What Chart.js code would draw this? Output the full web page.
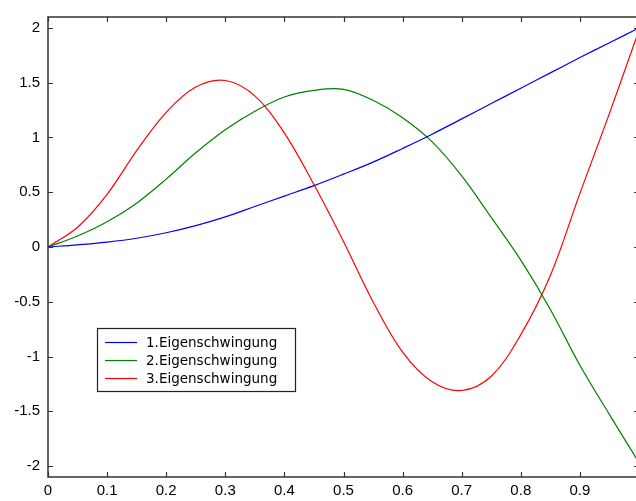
<!DOCTYPE html>
<html>
<head>
<meta charset="utf-8">
<script src="https://cdn.jsdelivr.net/npm/chart.js@4/dist/chart.umd.min.js"></script>
<style>
  html, body { margin: 0; padding: 0; overflow: hidden; background: #fff; }
  #wrap { position: relative; width: 644px; height: 501px; }
</style>
</head>
<body>
<div id="wrap"><canvas id="modes"></canvas></div>
<script>
const stations = [0, 0.05, 0.1, 0.15, 0.2, 0.25, 0.3, 0.35, 0.4, 0.45, 0.5,
                  0.55, 0.6, 0.65, 0.7, 0.75, 0.8, 0.85, 0.9, 0.95, 1];
const mode1 = [0, 0.02, 0.045, 0.08, 0.13, 0.195, 0.275, 0.37, 0.465, 0.56, 0.665,
               0.775, 0.9, 1.03, 1.17, 1.31, 1.45, 1.59, 1.73, 1.865, 2.0];
const mode2 = [0, 0.1, 0.23, 0.4, 0.62, 0.86, 1.07, 1.24, 1.37, 1.43, 1.44,
               1.34, 1.18, 0.96, 0.65, 0.27, -0.12, -0.57, -1.08, -1.53, -1.97];
const mode3 = [0, 0.18, 0.48, 0.88, 1.23, 1.46, 1.52, 1.38, 1.04, 0.57, 0.05,
               -0.5, -0.96, -1.23, -1.31, -1.18, -0.8, -0.26, 0.49, 1.22, 1.98];
const seriesNames = ['1.Eigenschwingung', '2.Eigenschwingung', '3.Eigenschwingung'];
const xTicks = [0, 0.1, 0.2, 0.3, 0.4, 0.5, 0.6, 0.7, 0.8, 0.9, 1];
const xTickLabels = ['0', '0.1', '0.2', '0.3', '0.4', '0.5', '0.6', '0.7', '0.8', '0.9', ''];
const yTicks = [-2, -1.5, -1, -0.5, 0, 0.5, 1, 1.5, 2];

const toPoints = vals => vals.map((v, i) => ({ x: stations[i], y: v }));

// Rahmen mit nach innen zeigenden Ticks (wie MATLAB)
const frameBox = {
    id: 'frameBox',
    afterDatasetsDraw(chart) {
        const { ctx, chartArea: a, scales: { x, y } } = chart;
        ctx.save();
        ctx.strokeStyle = '#333';
        ctx.lineWidth = 1.5;
        ctx.strokeRect(a.left, a.top, a.right - a.left, a.bottom - a.top);
        ctx.lineWidth = 1.2;
        ctx.beginPath();
        x.ticks.forEach(t => {
            const px = Math.round(x.getPixelForValue(t.value)) + 0.5;
            ctx.moveTo(px, a.bottom); ctx.lineTo(px, a.bottom - 5);
            ctx.moveTo(px, a.top); ctx.lineTo(px, a.top + 5);
        });
        y.ticks.forEach(t => {
            const py = Math.round(y.getPixelForValue(t.value)) + 0.5;
            ctx.moveTo(a.left, py); ctx.lineTo(a.left + 5, py);
            ctx.moveTo(a.right, py); ctx.lineTo(a.right - 5, py);
        });
        ctx.stroke();
        ctx.restore();
    }
};

// Legende als Kasten im Diagramm
const boxLegend = {
    id: 'boxLegend',
    afterDraw(chart) {
        const ctx = chart.ctx;
        const left = 97, top = 328, w = 198, h = 63;
        ctx.save();
        ctx.fillStyle = '#fff';
        ctx.fillRect(left, top, w, h);
        ctx.strokeStyle = '#222';
        ctx.lineWidth = 1.2;
        ctx.strokeRect(left + 0.5, top + 0.5, w, h);
        ctx.font = '13.5px "DejaVu Sans", sans-serif';
        ctx.textBaseline = 'middle';
        chart.data.datasets.forEach((ds, i) => {
            const yy = top + 14.5 + i * 18;
            ctx.strokeStyle = ds.borderColor;
            ctx.lineWidth = 1.2;
            ctx.beginPath();
            ctx.moveTo(left + 8, yy); ctx.lineTo(left + 40, yy);
            ctx.stroke();
            ctx.fillStyle = '#000';
            ctx.fillText(ds.label, left + 49, yy + 1);
        });
        ctx.restore();
    }
};

const colors = ['#0000ff', '#008000', '#ff0000'];
const tickFont = { family: '"Liberation Sans", Arial, sans-serif', size: 15 };

new Chart(document.getElementById('modes'), {
    type: 'line',
    data: {
        datasets: [mode1, mode2, mode3].map((vals, i) => ({
            label: seriesNames[i],
            data: toPoints(vals),
            borderColor: colors[i],
            borderWidth: 1.2,
            pointRadius: 0,
            tension: 0.35,
            fill: false
        }))
    },
    options: {
        responsive: true,
        maintainAspectRatio: false,
        animation: false,
        layout: { padding: { top: 9, right: 5, left: 0, bottom: 0 } },
        plugins: {
            legend: { display: false },
            tooltip: { enabled: false }
        },
        scales: {
            x: {
                type: 'linear',
                min: 0,
                max: 1,
                grid: { display: false, drawTicks: false },
                border: { display: false },
                afterBuildTicks: s => { s.ticks = xTicks.map(v => ({ value: v })); },
                afterFit: s => { s.height = 24; },
                ticks: {
                    color: '#000',
                    padding: 5,
                    maxRotation: 0,
                    autoSkip: false,
                    font: tickFont,
                    callback: (v, i) => xTickLabels[i]
                }
            },
            y: {
                min: -2.1,
                max: 2.1,
                grid: { display: false, drawTicks: false },
                border: { display: false },
                afterBuildTicks: s => { s.ticks = yTicks.map(v => ({ value: v })); },
                afterFit: s => { s.width = 48; },
                ticks: {
                    color: '#000',
                    padding: 8,
                    font: tickFont,
                    callback: v => String(v)
                }
            }
        }
    },
    plugins: [frameBox, boxLegend]
});
</script>
</body>
</html>
